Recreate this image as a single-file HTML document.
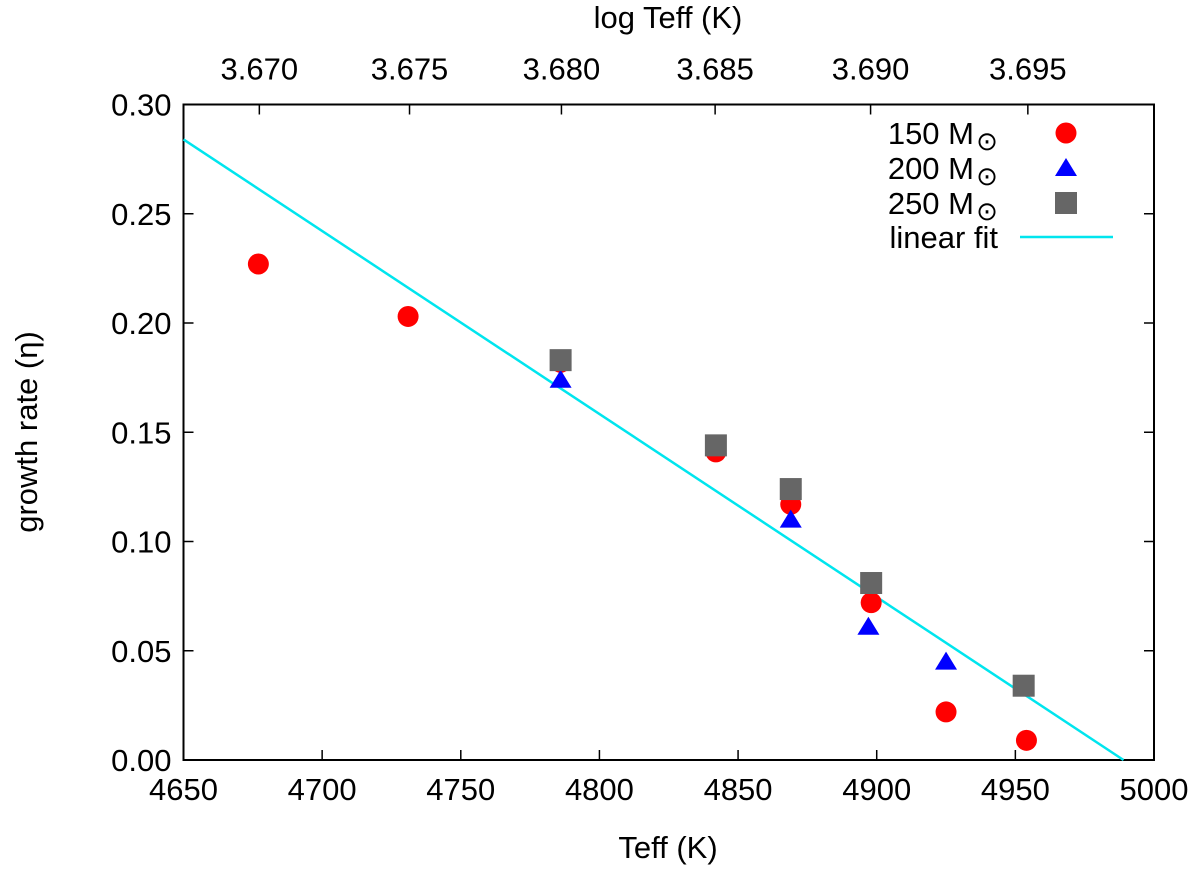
<!DOCTYPE html>
<html><head><meta charset="utf-8"><style>
body{margin:0;background:#fff;}
svg{display:block;font-family:"Liberation Sans",sans-serif;}
</style></head><body>
<svg id="chart" width="1200" height="869" viewBox="0 0 1200 869">
<g id="axes"></g><g id="marks"></g><g id="legend"></g>
</svg>
<script>
const xTicks=[4650,4700,4750,4800,4850,4900,4950,5000];
const yTicks=[0,0.05,0.10,0.15,0.20,0.25,0.30];
const logTicks=[3.670,3.675,3.680,3.685,3.690,3.695];
const teff150=[4677,4731,4786,4842,4869,4898,4925,4954];
const eta150=[0.227,0.203,0.182,0.141,0.117,0.072,0.022,0.009];
const teff200=[4786,4842,4869,4897,4925];
const eta200=[0.174,0.144,0.110,0.061,0.045];
const teff250=[4786,4842,4869,4898,4953];
const eta250=[0.183,0.144,0.124,0.081,0.034];
const fitX=[4650,4989];
const fitY=[0.284,0.0];

const L=183.5,R=1154,T=104.5,B=760;
const FS=31;
const xs=v=>L+(v-4650)/350*(R-L);
const ys=v=>B-v/0.30*(B-T);
const NS='http://www.w3.org/2000/svg';
function mk(tag,attrs,parent,text){const e=document.createElementNS(NS,tag);for(const k in attrs)e.setAttribute(k,attrs[k]);if(text!==undefined)e.textContent=text;parent.appendChild(e);return e;}
const ax=document.getElementById('axes'),mg=document.getElementById('marks'),lg=document.getElementById('legend');
let f=mk('rect',{x:L,y:T,width:R-L,height:B-T,fill:'none',stroke:'#000','stroke-width':2},ax);


xTicks.forEach(v=>{const x=xs(v);
 let t=mk('line',{x1:x,y1:B,x2:x,y2:B-10,stroke:'#000','stroke-width':1.5},ax);
 
 
 let l=mk('text',{x:x,y:B+40,'text-anchor':'middle','font-size':FS},ax,String(v));
 
 
});
yTicks.forEach(v=>{const y=ys(v);
 let t=mk('path',{d:`M${L},${y}h10M${R},${y}h-10`,stroke:'#000','stroke-width':1.5},ax);
 
 
 let l=mk('text',{x:L-12,y:y+11,'text-anchor':'end','font-size':FS},ax,v.toFixed(2));
 
 
});
logTicks.forEach(v=>{const x=xs(Math.pow(10,v));
 let t=mk('line',{x1:x,y1:T,x2:x,y2:T+10,stroke:'#000','stroke-width':1.5},ax);
 
 
 let l=mk('text',{x:x,y:T-25,'text-anchor':'middle','font-size':FS},ax,v.toFixed(3));
 
 
});
let xt=mk('text',{x:668,y:858,'text-anchor':'middle','font-size':FS},ax,'Teff (K)');


let tt=mk('text',{x:668,y:28,'text-anchor':'middle','font-size':FS},ax,'log Teff (K)');


let yt=mk('text',{x:0,y:0,'text-anchor':'middle','font-size':FS,transform:'translate(37,432) rotate(-90)'},ax,'growth rate (η)');



let fl=mk('line',{x1:xs(fitX[0]),y1:ys(fitY[0]),x2:xs(fitX[1]),y2:ys(fitY[1]),stroke:'#00e5ee','stroke-width':2.5},mg);


function circ(cx,cy,p){return mk('circle',{cx:cx,cy:cy,r:10.5,fill:'#f00'},p);}
function tri(cx,cy,p){return mk('path',{d:`M${cx},${cy-10}L${cx+11},${cy+8}L${cx-11},${cy+8}Z`,fill:'#00f'},p);}
function sq(cx,cy,p){return mk('rect',{x:cx-11,y:cy-11,width:22,height:22,fill:'#666'},p);}
teff150.forEach((t,i)=>{const e=circ(xs(t),ys(eta150[i]),mg);
 
 });
teff200.forEach((t,i)=>{const e=tri(xs(t),ys(eta200[i]),mg);
 
 });
teff250.forEach((t,i)=>{const e=sq(xs(t),ys(eta250[i]),mg);
 
 });

const labels=['150 M','200 M','250 M','linear fit'];
const rowsY=[133,168,203,237];
labels.forEach((s,i)=>{const y=rowsY[i];
 const tx=mk('text',{x:i<3?974:998,y:y+11,'text-anchor':'end','font-size':FS},lg,s);
 
 
 if(i<3){const o=mk('text',{x:987,y:y+17,'text-anchor':'middle','font-size':26},lg,'⊙');
  
  }
 let m;
 if(i==0)m=circ(1066,y,lg);else if(i==1)m=tri(1066,y,lg);else if(i==2)m=sq(1066,y,lg);
 else m=mk('line',{x1:1020,y1:y,x2:1113,y2:y,stroke:'#00e5ee','stroke-width':2.5},lg);
 
 
});
</script>
</body></html>
